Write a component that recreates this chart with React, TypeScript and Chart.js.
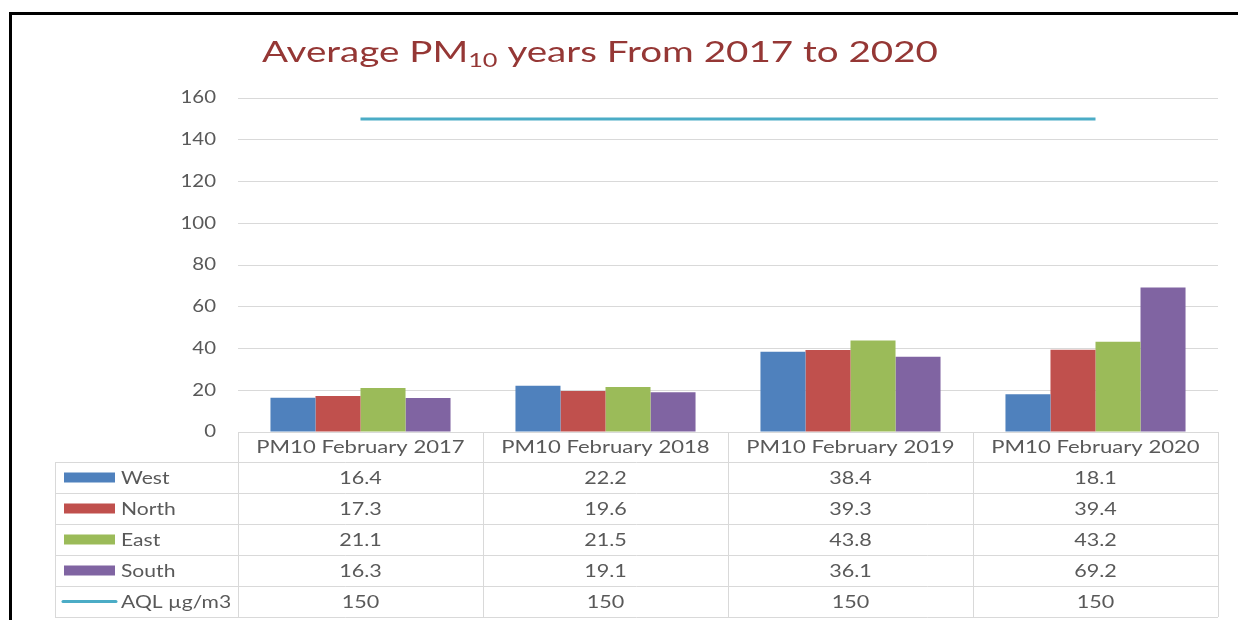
import React, { useEffect, useRef } from "react";
import { Chart, registerables } from "chart.js";

Chart.register(...registerables);

const categories = [
  "PM10 February 2017",
  "PM10 February 2018",
  "PM10 February 2019",
  "PM10 February 2020",
];
const westValues = [16.4, 22.2, 38.4, 18.1];
const northValues = [17.3, 19.6, 39.3, 39.4];
const eastValues = [21.1, 21.5, 43.8, 43.2];
const southValues = [16.3, 19.1, 36.1, 69.2];
const aqlValues = [150, 150, 150, 150];
const seriesLabels = ["West", "North", "East", "South", "AQL µg/m3"];
const seriesColors = ["#4f81bd", "#c0504d", "#9bbb59", "#8064a2", "#4bacc6"];
const yTicks = [0, 20, 40, 60, 80, 100, 120, 140, 160];

const FONT = "Lato, 'Open Sans', sans-serif";
const TEXT = "#595959";
const GRID = "#d9d9d9";
const STRETCH = 1.27;
const TITLE_STRETCH = 1.33;

function drawText(ctx: any, text: string, x: number, y: number, align: string, sx: number) {
  ctx.save();
  ctx.translate(x, y);
  ctx.scale(sx, 1);
  ctx.textAlign = align;
  ctx.fillText(text, 0, 0);
  ctx.restore();
}

const tablePlugin = {
  id: "dataTable",
  beforeDraw(chart: any) {
    const ctx = chart.ctx;
    ctx.save();
    ctx.fillStyle = "#ffffff";
    ctx.fillRect(0, 0, chart.width, chart.height);
    ctx.fillStyle = "#000000";
    ctx.fillRect(9, 12, 3, chart.height);
    ctx.fillRect(9, 12, chart.width, 3);
    ctx.restore();
  },
  afterDraw(chart: any) {
    const ctx = chart.ctx;
    const xs = chart.scales.x;
    const ys = chart.scales.y;
    const area = chart.chartArea;
    const n = categories.length;
    const colW = (area.right - area.left) / n;
    const top = area.bottom;
    const headerH = 30;
    const rowH = 31;
    const keyLeft = 55;
    const rows = chart.data.datasets.length;
    const tableBottom = top + headerH + rows * rowH;

    ctx.save();
    // y tick labels
    ctx.fillStyle = TEXT;
    ctx.font = `17px ${FONT}`;
    ctx.textBaseline = "middle";
    ys.ticks.forEach((t: any) => {
      drawText(ctx, String(t.value), 216, ys.getPixelForValue(t.value), "right", 1.2);
    });

    ctx.strokeStyle = GRID;
    ctx.lineWidth = 1;
    // vertical lines
    for (let i = 0; i <= n; i++) {
      const xx =
        i < n
          ? Math.round(xs.getPixelForValue(i) - colW / 2) + 0.5
          : Math.round(xs.getPixelForValue(n - 1) + colW / 2) + 0.5;
      ctx.beginPath();
      ctx.moveTo(xx, top);
      ctx.lineTo(xx, tableBottom);
      ctx.stroke();
    }
    ctx.beginPath();
    ctx.moveTo(keyLeft + 0.5, top + headerH);
    ctx.lineTo(keyLeft + 0.5, tableBottom);
    ctx.stroke();
    // horizontal lines
    ctx.beginPath();
    ctx.moveTo(area.left, Math.round(top) + 0.5);
    ctx.lineTo(area.right, Math.round(top) + 0.5);
    ctx.stroke();
    for (let r = 0; r <= rows; r++) {
      const yy = Math.round(top + headerH + r * rowH) + 0.5;
      ctx.beginPath();
      ctx.moveTo(keyLeft, yy);
      ctx.lineTo(area.right, yy);
      ctx.stroke();
    }

    // header text
    ctx.fillStyle = TEXT;
    ctx.font = `17px ${FONT}`;
    ctx.textBaseline = "middle";
    for (let i = 0; i < n; i++) {
      drawText(ctx, String(chart.data.labels[i]), xs.getPixelForValue(i), top + headerH / 2 + 1, "center", 1.3);
    }
    // rows
    chart.data.datasets.forEach((ds: any, r: number) => {
      const cy = top + headerH + r * rowH + rowH / 2;
      if (ds.type === "line") {
        ctx.strokeStyle = ds.borderColor;
        ctx.lineWidth = 3;
        ctx.lineCap = "round";
        ctx.beginPath();
        ctx.moveTo(63, cy);
        ctx.lineTo(116, cy);
        ctx.stroke();
      } else {
        ctx.fillStyle = ds.backgroundColor;
        ctx.fillRect(64, cy - 5, 51, 10);
      }
      ctx.fillStyle = TEXT;
      drawText(ctx, ds.label, 121, cy + 1, "left", 1.24);
      ds.data.forEach((v: number, i: number) => {
        drawText(ctx, String(v), xs.getPixelForValue(i), cy + 1, "center", STRETCH);
      });
    });

    // title with subscript
    const t1 = "Average PM";
    const t2 = "10";
    const t3 = " years From 2017 to 2020";
    const big = `29px ${FONT}`;
    const small = `19px ${FONT}`;
    ctx.font = big;
    const w1 = ctx.measureText(t1).width * TITLE_STRETCH;
    const w3 = ctx.measureText(t3).width * TITLE_STRETCH;
    ctx.font = small;
    const w2 = ctx.measureText(t2).width * TITLE_STRETCH;
    const total = w1 + w2 + w3;
    let sx = 600 - total / 2;
    const base = 62;
    ctx.fillStyle = "#953735";
    ctx.textBaseline = "alphabetic";
    ctx.font = big;
    drawText(ctx, t1, sx, base, "left", TITLE_STRETCH);
    sx += w1;
    ctx.font = small;
    drawText(ctx, t2, sx, base + 5, "left", TITLE_STRETCH);
    sx += w2;
    ctx.font = big;
    drawText(ctx, t3, sx, base, "left", TITLE_STRETCH);
    ctx.restore();
  },
};

export default function App() {
  const ref = useRef<HTMLCanvasElement | null>(null);
  useEffect(() => {
    document.body.style.margin = "0";
    const barSets = [westValues, northValues, eastValues, southValues].map((d, i) => ({
      type: "bar" as const,
      label: seriesLabels[i],
      data: d,
      backgroundColor: seriesColors[i],
      borderColor: seriesColors[i],
      borderWidth: 0,
      categoryPercentage: 0.735,
      barPercentage: 1.0,
      order: 2,
    }));
    const lineSet = {
      type: "line" as const,
      label: seriesLabels[4],
      data: aqlValues,
      borderColor: seriesColors[4],
      backgroundColor: seriesColors[4],
      borderWidth: 3,
      pointRadius: 0,
      fill: false,
      order: 1,
    };
    const chart = new Chart(ref.current as HTMLCanvasElement, {
      type: "bar",
      data: { labels: categories, datasets: [...barSets, lineSet] as any },
      options: {
        animation: false,
        responsive: false,
        layout: { padding: { left: 0, right: 20, top: 98, bottom: 188 } },
        plugins: { legend: { display: false }, title: { display: false }, tooltip: { enabled: false } },
        scales: {
          x: { display: false, offset: true },
          y: {
            min: 0,
            max: 160,
            afterBuildTicks: (s: any) => {
              s.ticks = yTicks.map((v) => ({ value: v }));
            },
            afterFit: (s: any) => {
              s.width = 238;
            },
            border: { display: false },
            grid: { color: GRID, drawTicks: false, lineWidth: 1 },
            ticks: { display: false },
          },
        },
      },
      plugins: [tablePlugin],
    });
    return () => chart.destroy();
  }, []);
  return <canvas ref={ref} width={1238} height={620} style={{ display: "block" }} />;
}
